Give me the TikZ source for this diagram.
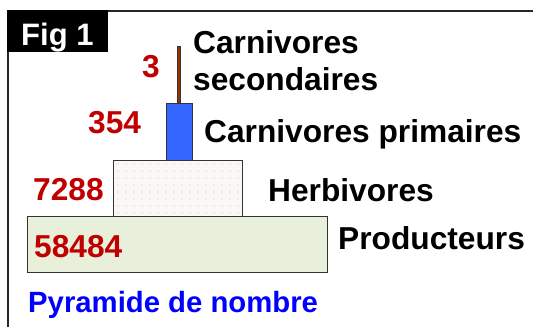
\documentclass[tikz,border=0pt]{standalone}
\usepackage{fontspec}
\setmainfont{Liberation Sans}
\begin{document}
\begin{tikzpicture}[x=1pt,y=-1pt,
  lab/.style={font=\fontsize{31.7}{31.7}\selectfont\bfseries, inner sep=0pt, anchor=base west},
  num/.style={lab, text=numred},
  bar/.style={draw=black!80, line width=0.8pt}]
\definecolor{numred}{HTML}{C00000}
\definecolor{barblue}{HTML}{3366FF}
\definecolor{prodgreen}{HTML}{E8F0DC}
\definecolor{herbfill}{HTML}{FBF7F4}
\definecolor{brownbar}{HTML}{993300}
\useasboundingbox (0,0) rectangle (533,327);
\fill[white] (0,0) rectangle (533,327);
% frame
\draw[line width=1.5pt, black!85] (8,327) -- (8,11) -- (533,11);
\fill[black] (7.25,10.25) rectangle (108,52);
\node[lab, text=white, font=\fontsize{31}{31}\selectfont\bfseries] (fig) at (21,45) {Fig 1};
% bars
\draw[bar, fill=prodgreen] (27,216) rectangle (327,272);
\draw[bar, fill=herbfill] (113,160) rectangle (242,216);
\foreach \i in {0,...,15} \foreach \j in {0,...,7}
  \fill[black!25] (118+8*\i,164+7*\j) circle (0.55);
\draw[bar, fill=barblue] (166,103) rectangle (192,160);
\draw[bar, line width=0.6pt, fill=brownbar] (177.3,46) rectangle (180.5,103);
% numbers
\node[num] (n3) at (142,77) {3};
\node[num] (n354) at (88,133) {354};
\node[num] (n7288) at (33,200) {7288};
\node[num] (n58484) at (34,257) {58484};
% labels
\node[lab] (cs1) at (193,53) {Carnivores};
\node[lab] (cs2) at (193,90) {secondaires};
\node[lab] (cp) at (204,142) {Carnivores primaires};
\node[lab] (hb) at (268,201) {Herbivores};
\node[lab] (pr) at (338,249) {Producteurs};
\node[lab, font=\fontsize{29.3}{29.3}\selectfont\bfseries, text={rgb,255:red,0;green,0;blue,255}] (title) at (28,312) {Pyramide de nombre};
\end{tikzpicture}
\end{document}
